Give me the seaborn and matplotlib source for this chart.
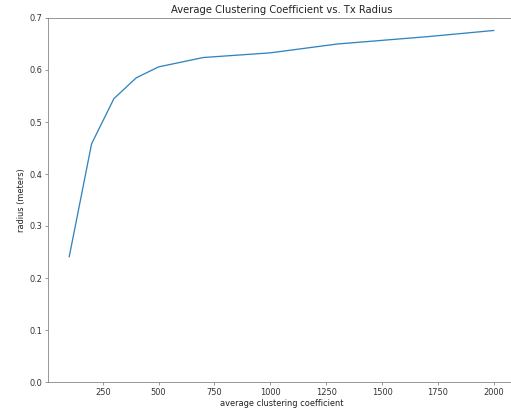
import numpy as np
import pandas as pd
import matplotlib
matplotlib.use('Agg')
import matplotlib.pyplot as plt
import seaborn as sns

# Tx radius values and the measured average clustering coefficient
radius = [100, 200, 300, 400, 500, 700, 1000, 1300, 1500, 1700, 2000]
avg_cc = [0.241, 0.458, 0.545, 0.585, 0.606, 0.624, 0.633, 0.650, 0.657, 0.664, 0.676]

data = pd.DataFrame({'radius': radius, 'avg_cc': avg_cc})

fig = plt.figure(figsize=(511/72, 410/72), dpi=72)
# the original image was cropped, so the right spine falls just outside
ax = fig.add_axes([48/511, 28/410, (515-48)/511, 364/410])
sns.lineplot(x='radius', y='avg_cc', data=data, ax=ax, color='#3283be', linewidth=1.3)
ax.set_ylim(0, 0.7)
ax.set_title('Average Clustering Coefficient vs. Tx Radius', color='#222222', fontsize=10, pad=5)
ax.set_xlabel('average clustering coefficient', color='#222222', fontsize=8.3, labelpad=2)
ax.set_ylabel('radius (meters)', color='#222222', fontsize=8.3, labelpad=3)

for s in ax.spines.values():
    s.set_color('#808080')
ax.tick_params(colors='#808080', labelcolor='#333333', labelsize=8.3, length=3, pad=3)

plt.savefig('out.png', dpi=72)
